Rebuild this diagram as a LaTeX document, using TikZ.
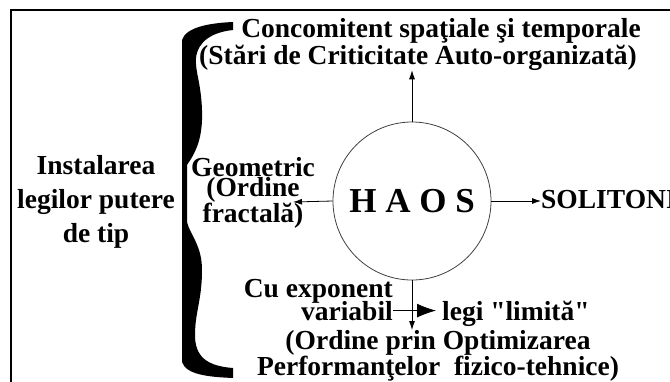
\documentclass[tikz,border=0pt]{standalone}
\usepackage{fontspec}
\setmainfont{Liberation Serif}[Ligatures=TeXOff]
\usetikzlibrary{arrows.meta,positioning}

\begin{document}
\begin{tikzpicture}[x=1pt, y=-1pt,
  t/.style={inner sep=0pt, font=\fontsize{27.5}{27.5}\selectfont\bfseries},
  ln/.style={draw, line width=0.8pt},
  tip/.style={-{Latex[length=9pt, width=6pt]}},
  bigtip/.style={-{Latex[length=19pt, width=14pt]}}]
\useasboundingbox (0,0) rectangle (670,381);
\clip (0,0) rectangle (670,381);
\draw[line width=1.6pt] (11,10) rectangle (720,420);
\fill (233,22) .. controls (210,23) and (186,27) .. (182,40) -- (182,362)
  .. controls (186,375) and (210,377) .. (233,378) -- (233,368)
  .. controls (206,366) and (195,356) .. (195,335)
  .. controls (195,312) and (202,300) .. (202,270)
  .. controls (202,245) and (190,235) .. (187,222) -- (187,165)
  .. controls (196,152) and (203,138) .. (202,110)
  .. controls (201,82) and (195,72) .. (196,58)
  .. controls (198,40) and (214,32) .. (233,30) -- cycle;
\node[circle, draw=black!75, line width=0.8pt, minimum size=158pt, inner sep=0pt,
      font=\fontsize{35}{35}\selectfont\bfseries] (haos) at (412,201) {H A O S};
\node[t, align=center, anchor=north, font=\fontsize{27.5}{34}\selectfont\bfseries]
  (inst) at (96,155) {Instalarea\\legilor putere\\de tip};
\node[t, align=center, anchor=north, font=\fontsize{27.5}{20}\selectfont\bfseries]
  (geom) at (253,157) {Geometric\\(Ordine\\fractală)};
\coordinate (gtip) at (293,202);
\node[t, anchor=base] (conc) at (441,37) {Concomitent spaţiale şi temporale};
\node[t, anchor=base] (stari) at (418,64) {(Stări de Criticitate Auto-organizată)};
\node[t, anchor=base west] (sol) at (541,208) {SOLITONI};
\node[t, anchor=base east] (cu) at (393,297) {Cu exponent};
\node[t, anchor=base east] (var) at (393,320) {variabil};
\node[t, anchor=base west] (legi) at (442,320) {legi "limită"};
\node[t, align=center, anchor=north, font=\fontsize{27.5}{19.5}\selectfont\bfseries]
  (ord) at (438,330) {(Ordine prin Optimizarea\\Performanţelor\ \ fizico-tehnice)};
\draw[ln, tip] (haos.north) -- (haos.north |- stari.south);
\draw[ln, tip] (haos.east) -- (haos.east -| sol.west);
\draw[ln, tip] (haos.west) -- (gtip);
\draw[ln, tip] (haos.south) -- (haos.south |- ord.north);
\draw[ln, bigtip, shorten >=6pt] (var.east) -- (var.east -| legi.west);
\end{tikzpicture}
\end{document}
